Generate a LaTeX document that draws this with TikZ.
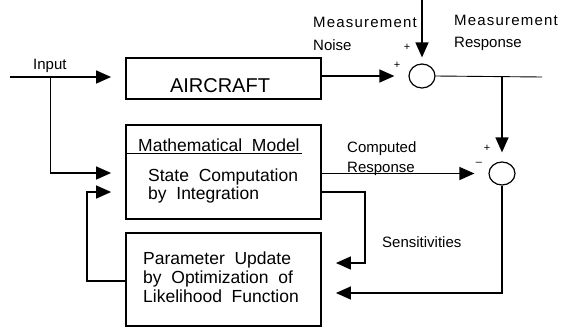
\documentclass[tikz,border=0pt]{standalone}
\usepackage{fontspec}
\setmainfont{Liberation Sans}
\usetikzlibrary{arrows.meta,shapes.geometric,calc}
\begin{document}
\begin{tikzpicture}[x=1pt,y=-1pt,
  blk/.style={draw,line width=1.8pt,minimum width=195pt,inner sep=0pt},
  sumj/.style={draw,ellipse,line width=1.2pt,minimum width=26pt,minimum height=24pt,inner sep=0pt},
  arr/.style={line width=1.4pt,-{Triangle[length=15pt,width=13pt]}},
  thin/.style={line width=0.9pt},
  lbl/.style={inner sep=0pt,anchor=base west,font=\fontsize{15}{17}\selectfont},
  sgn/.style={inner sep=0pt,font=\fontsize{11}{12}\selectfont}]
\useasboundingbox (0,0) rectangle (582,330);
% blocks
\node[blk,minimum height=41pt] (air) at (223.5,78.5) {};
\node[font=\fontsize{20}{22}\selectfont,inner sep=0pt,anchor=base] (airt) at (220,92) {AIRCRAFT};
\node[blk,minimum height=94pt] (model) at (223.5,172) {};
\node[blk,minimum height=93pt] (param) at (223.5,279.5) {};
\node[inner sep=0pt,anchor=base west,font=\fontsize{17.5}{19}\selectfont] (mm) at (138,151) {Mathematical\ \ Model};
\coordinate (ul0) at (127,153);
\coordinate (ul1) at (302,153);
\draw[line width=0.9pt] (ul0) -- (ul1);
\node[inner sep=0pt,anchor=north west,align=left,font=\fontsize{17.5}{18}\selectfont] (sc) at (148,169) {State\ \ Computation\\by\ \ Integration};
\node[inner sep=0pt,anchor=north west,align=left,font=\fontsize{17.5}{19}\selectfont] (pu) at (143,252) {Parameter\ \ Update\\by\ \ Optimization\ \ of\\Likelihood\ \ Function};
% summing junctions
\node[sumj] (s1) at (422,76) {};
\node[sumj,minimum height=23pt] (s2) at (502,173.5) {};
% labels
\node[lbl] (inl) at (33,69) {Input};
\node[lbl] (mn1) at (313,27) {\addfontfeature{LetterSpace=8}Measurement};
\node[lbl] (mn2) at (313,50) {Noise};
\node[lbl] (mr1) at (454,25) {\addfontfeature{LetterSpace=8}Measurement};
\node[lbl] (mr2) at (454,47) {Response};
\node[lbl] (cr1) at (347,152) {Computed};
\node[lbl] (cr2) at (347,172) {Response};
\node[lbl] (sen) at (382,247) {Sensitivities};
\node[sgn] (p1) at (407,47) {+};
\node[sgn] (p2) at (397,65) {+};
\node[sgn] (p3) at (487,148) {+};
\node[sgn] (m1) at (479,164) {\textendash};
% coordinates
\coordinate (in) at (10,77);
\coordinate (br) at (50,77);
\coordinate (fb) at (87,192);
\coordinate (top) at (422,0);
\coordinate (out) at (542,77);
\coordinate (ob) at (502,77);
\coordinate (sv) at (365,263);
\coordinate (eb) at (502,293);
% connectors
\draw[arr,shorten >=14pt] (in) -- (in -| air.west);
\draw[thin] (br) -- (br |- model.center);
\draw[arr,shorten >=14pt] (br |- 0,173) -- (model.west |- 0,173);
\draw[arr,shorten >=14pt] (param.west |- 0,281) -| (fb) -- (fb -| model.west);
\draw[arr,shorten >=14pt] (air.east |- s1) -- (s1.west);
\draw[arr,shorten >=6pt] (top) -- (s1.north);
\draw[thin] (s1.east) -- (out);
\draw[arr,shorten >=9pt] (ob) -- (s2.north);
\draw[arr,shorten >=14pt] (model.east |- s2) -- (s2.west);
\draw[arr,shorten >=14pt] (model.east |- fb) -| (sv) -- (sv -| param.east);
\draw[arr,shorten >=14pt] (s2.south) |- (eb) -- (eb -| param.east);
\end{tikzpicture}
\end{document}
